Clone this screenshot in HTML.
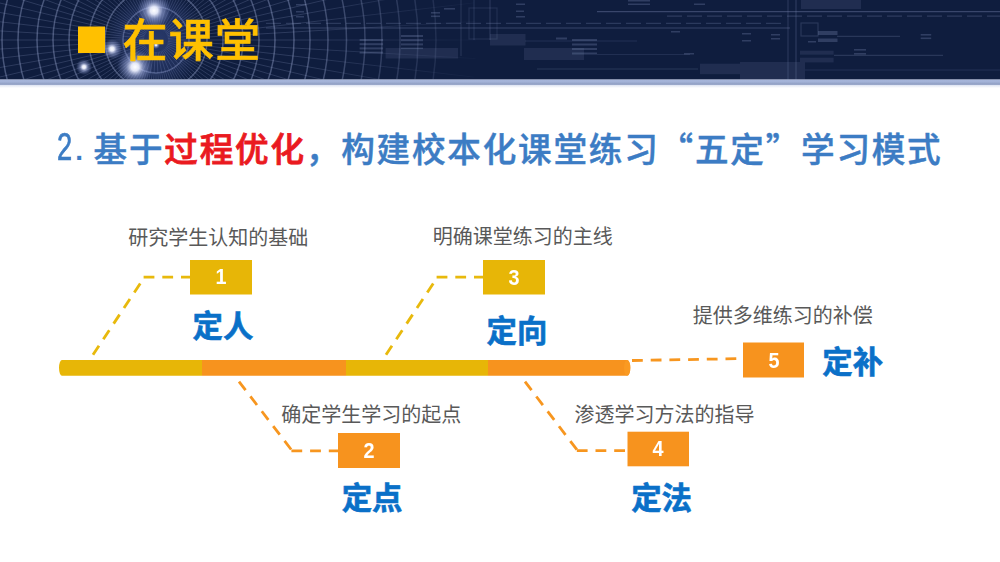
<!DOCTYPE html>
<html lang="zh-CN">
<head>
<meta charset="utf-8">
<title>在课堂</title>
<style>
html,body{margin:0;padding:0;background:#fff;}
body{width:1000px;height:562px;overflow:hidden;position:relative;font-family:"Liberation Sans","Noto Sans CJK SC",sans-serif;}
#stage{position:absolute;left:0;top:0;width:1000px;height:562px;overflow:hidden;background:#fff;}
svg{position:absolute;left:0;top:0;}
.t{position:absolute;white-space:nowrap;line-height:1;margin:0;}
.hd{left:122.5px;top:18.5px;font-size:45px;font-weight:500;color:#ffc000;letter-spacing:1.3px;-webkit-text-stroke:0.6px #ffc000;}
.title{left:93.6px;top:131px;font-size:33.6px;font-weight:500;color:#3c7cc4;letter-spacing:1.79px;-webkit-text-stroke:0.45px #3c7cc4;}
.tnum{left:57px;top:127.5px;font-size:38px;font-weight:400;color:#3c7cc4;transform:scaleX(0.72);transform-origin:0 0;-webkit-text-stroke:0.7px #3c7cc4;}
.tdot{left:75.3px;top:137px;font-size:28px;font-weight:700;color:#3c7cc4;}
.q{font-family:"Noto Sans CJK SC",sans-serif;}
.title b{color:#ea1a1f;font-weight:500;-webkit-text-stroke:0.8px #ea1a1f;}
.lab{font-size:20px;color:#595959;font-weight:400;}
.key{font-size:30.4px;color:#0a70c8;font-weight:700;-webkit-text-stroke:0.6px #0a70c8;}
.num{font-size:22px;color:#fff;font-weight:700;width:62px;text-align:center;font-family:"Liberation Sans",sans-serif;transform:scaleX(0.9);}
</style>
</head>
<body>
<div id="stage">
<svg width="1000" height="562" viewBox="0 0 1000 562">
<defs>
<linearGradient id="hb" x1="0" y1="0" x2="0" y2="1">
<stop offset="0" stop-color="#a7b6db"/>
<stop offset="0.28" stop-color="#a3b2d7"/>
<stop offset="0.45" stop-color="#95a4c8"/>
<stop offset="0.58" stop-color="#98a6c9"/>
<stop offset="0.70" stop-color="#e3e8f4"/>
<stop offset="1" stop-color="#ffffff"/>
</linearGradient>
<linearGradient id="fg" x1="0" y1="0" x2="1" y2="0">
<stop offset="0" stop-color="#fff"/>
<stop offset="0.30" stop-color="#fff"/>
<stop offset="0.50" stop-color="#000"/>
<stop offset="1" stop-color="#000"/>
</linearGradient>
<mask id="fade" maskUnits="userSpaceOnUse" x="0" y="0" width="1000" height="90">
<rect x="0" y="0" width="1000" height="90" fill="url(#fg)"/>
</mask>
<radialGradient id="haze">
<stop offset="0" stop-color="#5e74c8" stop-opacity="0.32"/>
<stop offset="0.6" stop-color="#5e74c8" stop-opacity="0.2"/>
<stop offset="1" stop-color="#5e74c8" stop-opacity="0"/>
</radialGradient>
<radialGradient id="sp">
<stop offset="0" stop-color="#ffffff" stop-opacity="1"/>
<stop offset="0.22" stop-color="#eef1ff" stop-opacity="0.95"/>
<stop offset="0.5" stop-color="#b9c5f5" stop-opacity="0.5"/>
<stop offset="1" stop-color="#8f9fe0" stop-opacity="0"/>
</radialGradient>
<filter id="soft" x="0" y="0" width="1000" height="90" filterUnits="userSpaceOnUse"><feGaussianBlur stdDeviation="0.45"/></filter>
<clipPath id="hc"><rect x="0" y="0" width="1000" height="79.6"/></clipPath>
</defs>
<rect x="0" y="0" width="1000" height="79.6" fill="#0f1d3e"/>
<g clip-path="url(#hc)">
<g fill="none" mask="url(#fade)" filter="url(#soft)"><g stroke="#a3b0da" stroke-width="1.5" opacity="0.38">
<circle cx="156" cy="40" r="33"/>
<circle cx="156" cy="40" r="51"/>
<circle cx="156" cy="40" r="67"/>
<circle cx="156" cy="40" r="87"/>
<circle cx="156" cy="40" r="103"/>
<circle cx="156" cy="40" r="119"/>
<circle cx="156" cy="40" r="138"/>
<circle cx="156" cy="40" r="154"/>
<circle cx="156" cy="40" r="172"/>
<circle cx="156" cy="40" r="190.5"/>
<circle cx="156" cy="40" r="209"/>
<circle cx="156" cy="40" r="226"/>
<circle cx="156" cy="40" r="244"/>
<circle cx="156" cy="40" r="262"/>
<circle cx="156" cy="40" r="280"/>
</g><g stroke="#a3b0da" stroke-width="1" opacity="0.2">
<line x1="168.0" y1="40.0" x2="476.0" y2="40.0"/>
<line x1="188.9" y1="41.9" x2="475.5" y2="58.6"/>
<line x1="167.9" y1="41.4" x2="473.8" y2="77.1"/>
<line x1="188.5" y1="45.7" x2="471.1" y2="95.6"/>
<line x1="167.7" y1="42.8" x2="467.4" y2="113.8"/>
<line x1="187.6" y1="49.5" x2="462.6" y2="131.8"/>
<line x1="167.3" y1="44.1" x2="456.7" y2="149.4"/>
<line x1="186.3" y1="53.1" x2="449.8" y2="166.7"/>
<line x1="166.7" y1="45.4" x2="442.0" y2="183.6"/>
<line x1="184.6" y1="56.5" x2="433.1" y2="200.0"/>
<line x1="166.0" y1="46.6" x2="423.4" y2="215.8"/>
<line x1="182.5" y1="59.7" x2="412.7" y2="231.1"/>
<line x1="165.2" y1="47.7" x2="401.1" y2="245.7"/>
<line x1="180.0" y1="62.6" x2="388.8" y2="259.6"/>
<line x1="164.2" y1="48.7" x2="375.6" y2="272.8"/>
<line x1="177.2" y1="65.3" x2="361.7" y2="285.1"/>
<line x1="163.2" y1="49.6" x2="347.1" y2="296.7"/>
<line x1="174.1" y1="67.6" x2="331.8" y2="307.4"/>
<line x1="162.0" y1="50.4" x2="316.0" y2="317.1"/>
<line x1="170.8" y1="69.5" x2="299.6" y2="326.0"/>
<line x1="160.8" y1="51.0" x2="282.7" y2="333.8"/>
<line x1="167.3" y1="71.0" x2="265.4" y2="340.7"/>
<line x1="159.4" y1="51.5" x2="247.8" y2="346.6"/>
<line x1="163.6" y1="72.1" x2="229.8" y2="351.4"/>
<line x1="158.1" y1="51.8" x2="211.6" y2="355.1"/>
<line x1="159.8" y1="72.8" x2="193.1" y2="357.8"/>
<line x1="156.7" y1="52.0" x2="174.6" y2="359.5"/>
<line x1="156.0" y1="73.0" x2="156.0" y2="360.0"/>
<line x1="155.3" y1="52.0" x2="137.4" y2="359.5"/>
<line x1="152.2" y1="72.8" x2="118.9" y2="357.8"/>
<line x1="153.9" y1="51.8" x2="100.4" y2="355.1"/>
<line x1="148.4" y1="72.1" x2="82.2" y2="351.4"/>
<line x1="152.6" y1="51.5" x2="64.2" y2="346.6"/>
<line x1="144.7" y1="71.0" x2="46.6" y2="340.7"/>
<line x1="151.2" y1="51.0" x2="29.3" y2="333.8"/>
<line x1="141.2" y1="69.5" x2="12.4" y2="326.0"/>
<line x1="150.0" y1="50.4" x2="-4.0" y2="317.1"/>
<line x1="137.9" y1="67.6" x2="-19.8" y2="307.4"/>
<line x1="148.8" y1="49.6" x2="-35.1" y2="296.7"/>
<line x1="134.8" y1="65.3" x2="-49.7" y2="285.1"/>
<line x1="147.8" y1="48.7" x2="-63.6" y2="272.8"/>
<line x1="132.0" y1="62.6" x2="-76.8" y2="259.6"/>
<line x1="146.8" y1="47.7" x2="-89.1" y2="245.7"/>
<line x1="129.5" y1="59.7" x2="-100.7" y2="231.1"/>
<line x1="146.0" y1="46.6" x2="-111.4" y2="215.8"/>
<line x1="127.4" y1="56.5" x2="-121.1" y2="200.0"/>
<line x1="145.3" y1="45.4" x2="-130.0" y2="183.6"/>
<line x1="125.7" y1="53.1" x2="-137.8" y2="166.7"/>
<line x1="144.7" y1="44.1" x2="-144.7" y2="149.4"/>
<line x1="124.4" y1="49.5" x2="-150.6" y2="131.8"/>
<line x1="144.3" y1="42.8" x2="-155.4" y2="113.8"/>
<line x1="123.5" y1="45.7" x2="-159.1" y2="95.6"/>
<line x1="144.1" y1="41.4" x2="-161.8" y2="77.1"/>
<line x1="123.1" y1="41.9" x2="-163.5" y2="58.6"/>
<line x1="144.0" y1="40.0" x2="-164.0" y2="40.0"/>
<line x1="123.1" y1="38.1" x2="-163.5" y2="21.4"/>
<line x1="144.1" y1="38.6" x2="-161.8" y2="2.9"/>
<line x1="123.5" y1="34.3" x2="-159.1" y2="-15.6"/>
<line x1="144.3" y1="37.2" x2="-155.4" y2="-33.8"/>
<line x1="124.4" y1="30.5" x2="-150.6" y2="-51.8"/>
<line x1="144.7" y1="35.9" x2="-144.7" y2="-69.4"/>
<line x1="125.7" y1="26.9" x2="-137.8" y2="-86.7"/>
<line x1="145.3" y1="34.6" x2="-130.0" y2="-103.6"/>
<line x1="127.4" y1="23.5" x2="-121.1" y2="-120.0"/>
<line x1="146.0" y1="33.4" x2="-111.4" y2="-135.8"/>
<line x1="129.5" y1="20.3" x2="-100.7" y2="-151.1"/>
<line x1="146.8" y1="32.3" x2="-89.1" y2="-165.7"/>
<line x1="132.0" y1="17.4" x2="-76.8" y2="-179.6"/>
<line x1="147.8" y1="31.3" x2="-63.6" y2="-192.8"/>
<line x1="134.8" y1="14.7" x2="-49.7" y2="-205.1"/>
<line x1="148.8" y1="30.4" x2="-35.1" y2="-216.7"/>
<line x1="137.9" y1="12.4" x2="-19.8" y2="-227.4"/>
<line x1="150.0" y1="29.6" x2="-4.0" y2="-237.1"/>
<line x1="141.2" y1="10.5" x2="12.4" y2="-246.0"/>
<line x1="151.2" y1="29.0" x2="29.3" y2="-253.8"/>
<line x1="144.7" y1="9.0" x2="46.6" y2="-260.7"/>
<line x1="152.6" y1="28.5" x2="64.2" y2="-266.6"/>
<line x1="148.4" y1="7.9" x2="82.2" y2="-271.4"/>
<line x1="153.9" y1="28.2" x2="100.4" y2="-275.1"/>
<line x1="152.2" y1="7.2" x2="118.9" y2="-277.8"/>
<line x1="155.3" y1="28.0" x2="137.4" y2="-279.5"/>
<line x1="156.0" y1="7.0" x2="156.0" y2="-280.0"/>
<line x1="156.7" y1="28.0" x2="174.6" y2="-279.5"/>
<line x1="159.8" y1="7.2" x2="193.1" y2="-277.8"/>
<line x1="158.1" y1="28.2" x2="211.6" y2="-275.1"/>
<line x1="163.6" y1="7.9" x2="229.8" y2="-271.4"/>
<line x1="159.4" y1="28.5" x2="247.8" y2="-266.6"/>
<line x1="167.3" y1="9.0" x2="265.4" y2="-260.7"/>
<line x1="160.8" y1="29.0" x2="282.7" y2="-253.8"/>
<line x1="170.8" y1="10.5" x2="299.6" y2="-246.0"/>
<line x1="162.0" y1="29.6" x2="316.0" y2="-237.1"/>
<line x1="174.1" y1="12.4" x2="331.8" y2="-227.4"/>
<line x1="163.2" y1="30.4" x2="347.1" y2="-216.7"/>
<line x1="177.2" y1="14.7" x2="361.7" y2="-205.1"/>
<line x1="164.2" y1="31.3" x2="375.6" y2="-192.8"/>
<line x1="180.0" y1="17.4" x2="388.8" y2="-179.6"/>
<line x1="165.2" y1="32.3" x2="401.1" y2="-165.7"/>
<line x1="182.5" y1="20.3" x2="412.7" y2="-151.1"/>
<line x1="166.0" y1="33.4" x2="423.4" y2="-135.8"/>
<line x1="184.6" y1="23.5" x2="433.1" y2="-120.0"/>
<line x1="166.7" y1="34.6" x2="442.0" y2="-103.6"/>
<line x1="186.3" y1="26.9" x2="449.8" y2="-86.7"/>
<line x1="167.3" y1="35.9" x2="456.7" y2="-69.4"/>
<line x1="187.6" y1="30.5" x2="462.6" y2="-51.8"/>
<line x1="167.7" y1="37.2" x2="467.4" y2="-33.8"/>
<line x1="188.5" y1="34.3" x2="471.1" y2="-15.6"/>
<line x1="167.9" y1="38.6" x2="473.8" y2="2.9"/>
<line x1="188.9" y1="38.1" x2="475.5" y2="21.4"/>
</g></g>
<circle cx="156" cy="40" r="50" fill="url(#haze)"/>
<circle cx="154" cy="10.5" r="17" fill="url(#sp)"/>
<circle cx="112" cy="49" r="10" fill="url(#sp)"/>
<circle cx="84" cy="67" r="8" fill="url(#sp)"/>
<circle cx="135" cy="67" r="18" fill="url(#sp)"/>
<circle cx="156" cy="45" r="4" fill="url(#sp)"/>
<g opacity="0.8" filter="url(#soft)">
<g stroke="#93a1cc" stroke-width="1.2" fill="none">
<line x1="266" y1="23.4" x2="784" y2="23.4" stroke-dasharray="15 5" opacity="0.28"/>
<line x1="266" y1="28" x2="790" y2="28" opacity="0.38"/>
<line x1="597" y1="11.7" x2="1000" y2="11.7" opacity="0.4"/>
<line x1="667" y1="16.2" x2="1000" y2="16.2" stroke-dasharray="15 5" opacity="0.3"/>
<line x1="537" y1="69" x2="698" y2="69" opacity="0.25"/>
<line x1="805" y1="70" x2="1000" y2="70" opacity="0.2"/>
<line x1="837" y1="36.4" x2="900" y2="36.4" opacity="0.25"/>
<line x1="834" y1="55.4" x2="943" y2="55.4" opacity="0.25"/>
<line x1="525" y1="41" x2="637" y2="41" opacity="0.2"/>
<line x1="597" y1="54.5" x2="690" y2="54.5" opacity="0.18"/>
<line x1="461" y1="0" x2="461" y2="56" opacity="0.22"/>
<line x1="474" y1="0" x2="474" y2="40" opacity="0.2"/>
<line x1="490" y1="0" x2="490" y2="40" opacity="0.25"/>
<line x1="788" y1="0" x2="788" y2="80" opacity="0.25"/>
<line x1="796" y1="0" x2="796" y2="80" opacity="0.28"/>
<rect x="469" y="8" width="28" height="31" opacity="0.18"/>
<rect x="801" y="23" width="17" height="13" opacity="0.25"/>
</g>
<g fill="#93a1cc">
<g opacity="0.32">
<rect x="359.6" y="39" width="23.5" height="2"/>
<rect x="359.6" y="43.2" width="23.5" height="2"/>
<rect x="359.6" y="47.4" width="23.5" height="2"/>
<rect x="359.6" y="51.6" width="23.5" height="2"/>
<rect x="401" y="35" width="22" height="2"/>
<rect x="401" y="39.2" width="22" height="2"/>
<rect x="401" y="43.4" width="22" height="2"/>
<rect x="401" y="47.6" width="22" height="1.5"/>
<rect x="431" y="12" width="9" height="1.6"/>
<rect x="431" y="15.5" width="9" height="1.6"/>
<rect x="444" y="8" width="11" height="1.6"/>
<rect x="296" y="4" width="10" height="1.5"/>
<rect x="296" y="11" width="8" height="1.5"/>
<rect x="296" y="16" width="8" height="1.5"/>
<rect x="572" y="39" width="25" height="2"/>
<rect x="572" y="43.5" width="25" height="2"/>
<rect x="572" y="48" width="25" height="2"/>
<rect x="572" y="52.5" width="25" height="2"/>
<rect x="556" y="37.5" width="11" height="2"/>
<rect x="516" y="3.5" width="9" height="1.5"/>
<rect x="516" y="10.5" width="8" height="1.5"/>
<rect x="516" y="16" width="9" height="1.5"/>
<rect x="628" y="0" width="22" height="1.5"/>
<rect x="628" y="3.5" width="22" height="1.5"/>
<rect x="694" y="3.5" width="11" height="1.5"/>
<rect x="818" y="31" width="19.5" height="4"/>
<rect x="818" y="38.5" width="19.5" height="3.5"/>
<rect x="920.7" y="34" width="10.5" height="1.6"/>
<rect x="920.7" y="37.5" width="10.5" height="1.6"/>
<rect x="854" y="49" width="12" height="1.6"/>
<rect x="854" y="53" width="12" height="1.6"/>
<rect x="742" y="33" width="9" height="1.5"/>
<rect x="742" y="40" width="9" height="1.5"/>
<rect x="771" y="34" width="9" height="1.5"/>
<rect x="771" y="38" width="9" height="1.5"/>
<rect x="808" y="41" width="8" height="1.5"/>
<rect x="684" y="53" width="10" height="1.5"/>
<rect x="671" y="31" width="9" height="1.5"/>
</g>
<g opacity="0.16">
<rect x="385.6" y="48" width="72.4" height="10.5"/>
<rect x="490" y="34" width="35.5" height="11.5"/>
<rect x="524" y="48" width="60" height="12"/>
<rect x="700" y="63.7" width="105" height="10.5"/>
<rect x="740" y="74" width="65" height="6"/>
<rect x="801" y="0" width="60" height="9"/>
<rect x="800" y="50.7" width="33.6" height="4"/>
<rect x="800" y="57.7" width="33.6" height="4.7"/>
<rect x="740" y="62" width="65" height="2"/>
</g>
</g>
</g>
</g>
<rect x="0" y="79.6" width="1000" height="8.4" fill="url(#hb)"/>
<rect x="78" y="26.5" width="27" height="26.5" fill="#ffc000"/>

<!-- timeline bar -->
<clipPath id="barclip"><path d="M62,360 L627.2,360 A3.2,7.85 0 0 1 627.2,375.7 L62,375.7 A3,7.85 0 0 1 62,360 Z"/></clipPath>
<g clip-path="url(#barclip)">
<rect x="58" y="359" width="144" height="18" fill="#e7b607"/>
<rect x="202" y="359" width="144" height="18" fill="#f7931e"/>
<rect x="346" y="359" width="142" height="18" fill="#e7b607"/>
<rect x="488" y="359" width="144" height="18" fill="#f7931e"/>
<ellipse cx="627.2" cy="367.85" rx="3.2" ry="7.85" fill="#fa9a22"/>
</g>

<!-- connectors -->
<g fill="none" stroke-width="2.8" stroke-linecap="butt" stroke-dasharray="10.8 7.9">
<g stroke="#e8b90c">
<line x1="93" y1="354.8" x2="144.5" y2="277"/>
<line x1="143.6" y1="277.1" x2="190" y2="277.1"/>
<line x1="386" y1="354.8" x2="437.5" y2="277"/>
<line x1="436.6" y1="277.1" x2="483" y2="277.1"/>
</g>
<g stroke="#f7961f">
<line x1="239" y1="381.6" x2="292.3" y2="451"/>
<line x1="291.4" y1="450.9" x2="338" y2="450.9"/>
<line x1="525" y1="381.6" x2="577.7" y2="450.8"/>
<line x1="576.8" y1="450.7" x2="627.5" y2="450.7"/>
<line x1="632" y1="360.5" x2="737" y2="358.7"/>
</g>
</g>

<!-- boxes -->
<rect x="190" y="260" width="62" height="34.5" fill="#e7b607"/>
<rect x="483" y="260" width="62" height="34.5" fill="#e7b607"/>
<rect x="338" y="433" width="62" height="35" fill="#f7931e"/>
<rect x="627.5" y="431.7" width="61.5" height="34.6" fill="#f7931e"/>
<rect x="743" y="342.5" width="61" height="35" fill="#f7931e"/>
</svg>

<div class="t hd">在课堂</div>
<div class="t tnum">2</div><div class="t tdot">.</div>
<div class="t title">基于<b>过程优化</b>，构建校本化课堂练习<span class="q">“</span>五定<span class="q">”</span>学习模式</div>

<div class="t lab" style="left:128.3px;top:227.7px;">研究学生认知的基础</div>
<div class="t lab" style="left:432.8px;top:227px;">明确课堂练习的主线</div>
<div class="t lab" style="left:692.8px;top:306.2px;">提供多维练习的补偿</div>
<div class="t lab" style="left:281.2px;top:405.1px;">确定学生学习的起点</div>
<div class="t lab" style="left:574.4px;top:405px;">渗透学习方法的指导</div>

<div class="t num" style="left:190px;top:266.3px;">1</div>
<div class="t num" style="left:483px;top:266.5px;">3</div>
<div class="t num" style="left:338px;top:439.6px;">2</div>
<div class="t num" style="left:627px;top:438.3px;">4</div>
<div class="t num" style="left:743px;top:349.5px;">5</div>

<div class="t key" style="left:192.5px;top:311.0px;">定人</div>
<div class="t key" style="left:486.6px;top:316.0px;">定向</div>
<div class="t key" style="left:341.7px;top:483.0px;">定点</div>
<div class="t key" style="left:631.2px;top:482.6px;">定法</div>
<div class="t key" style="left:822.3px;top:346.6px;">定补</div>
</div>
</body>
</html>
